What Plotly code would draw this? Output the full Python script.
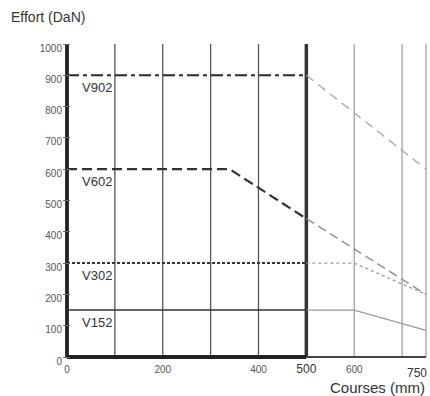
import plotly.graph_objects as go

# Stroke (mm) / force (daN) curves per model
courses_v902 = [0, 500, 750]
effort_v902 = [900, 900, 600]

courses_v602 = [0, 340, 500, 750]
effort_v602 = [600, 600, 442, 200]

courses_v302 = [0, 500, 600, 750]
effort_v302 = [300, 300, 300, 200]

courses_v152 = [0, 500, 600, 750]
effort_v152 = [150, 150, 150, 85]

models = ["V902", "V602", "V302", "V152"]
course_limit = 500  # curves are drawn bold up to this stroke, light beyond
course_max = 750    # last stroke; its label sits flush with the right edge

y_ticks = [0, 100, 200, 300, 400, 500, 600, 700, 800, 900, 1000]
x_ticks = [0, 200, 400, 500, 600]
x_ticktext = ["0", "200", "400", "500", "600"]
x_big_ticks = ["500", "750"]

grid_dark = [100, 200, 300, 400]
grid_light = [600, 700, 750]

FONT = "Liberation Sans, Arial, Helvetica, sans-serif"

styles = {
    "V902": dict(dark=dict(color="#2b2b2b", width=2, dash="12px,4px,4px,4px"),
                 light=dict(color="#a8a8a8", width=1.3, dash="9px,6px")),
    "V602": dict(dark=dict(color="#333333", width=2.2, dash="10px,5px"),
                 light=dict(color="#8f8f8f", width=1.4, dash="9px,5px")),
    "V302": dict(dark=dict(color="#333333", width=2, dash="3px,2px"),
                 light=dict(color="#9a9a9a", width=1.3, dash="3px,3px")),
    "V152": dict(dark=dict(color="#333333", width=1.6, dash="solid"),
                 light=dict(color="#9a9a9a", width=1.2, dash="solid")),
}

series = {
    "V902": (courses_v902, effort_v902),
    "V602": (courses_v602, effort_v602),
    "V302": (courses_v302, effort_v302),
    "V152": (courses_v152, effort_v152),
}

fig = go.Figure()

for name in models:
    xs, ys = series[name]
    dark = [(x, y) for x, y in zip(xs, ys) if x <= course_limit]
    light = [(x, y) for x, y in zip(xs, ys) if x >= course_limit]
    for part, pts in (("light", light), ("dark", dark)):
        fig.add_trace(go.Scatter(
            x=[p[0] for p in pts], y=[p[1] for p in pts],
            mode="lines", line=styles[name][part],
            showlegend=False, hoverinfo="skip", cliponaxis=False,
        ))
    fig.add_annotation(
        x=28, y=ys[0], text=name, showarrow=False,
        xanchor="left", yanchor="top", yshift=-3,
        font=dict(family=FONT, size=13, color="#333333"),
    )

shapes = []
for gx in grid_dark:
    shapes.append(dict(type="line", xref="x", yref="y", x0=gx, x1=gx, y0=0, y1=1000,
                       line=dict(color="#555555", width=1.3), layer="below"))
for gx in grid_light:
    shapes.append(dict(type="line", xref="x", yref="y", x0=gx, x1=gx, y0=0, y1=1000,
                       line=dict(color="#9a9a9a", width=1.2), layer="below"))
# bold frame: left axis, 500 mm limit, bottom axis
shapes.append(dict(type="line", xref="x", yref="y", x0=course_limit, x1=course_limit, y0=0, y1=1000,
                   line=dict(color="#333333", width=3.5), layer="below"))
shapes.append(dict(type="line", xref="x", yref="y", x0=course_limit, x1=course_max, y0=0, y1=0,
                   line=dict(color="#444444", width=1.8), layer="below"))
shapes.append(dict(type="line", xref="x", yref="y", x0=0, x1=course_limit, y0=0, y1=0,
                   line=dict(color="#222222", width=3.8), layer="below"))
shapes.append(dict(type="line", xref="x", yref="y", x0=0, x1=0, y0=0, y1=1000,
                   line=dict(color="#222222", width=3.8), layer="below"))

x_labels = [
    f'<span style="font-size:12px;color:#333">{t}</span>' if t in x_big_ticks else t
    for t in x_ticktext
]

fig.update_layout(
    width=430, height=396,
    margin=dict(l=63, r=0, t=41, b=36, autoexpand=False),
    paper_bgcolor="white", plot_bgcolor="white",
    shapes=shapes,
    xaxis=dict(
        range=[-8.36, 758.3], showgrid=False, zeroline=False, showline=False,
        automargin=False,
        tickmode="array", tickvals=x_ticks, ticktext=x_labels,
        ticks="", ticklabelstandoff=2,
        tickfont=dict(family=FONT, size=10, color="#555555"),
    ),
    yaxis=dict(
        range=[-9.6, 1009.6], showgrid=False, zeroline=False, showline=False,
        automargin=False,
        tickmode="array", tickvals=y_ticks,
        ticks="inside", ticklen=7, tickcolor="#666666", tickwidth=1,
        ticklabelshift=4, ticklabelstandoff=0, ticklabeloverflow="allow",
        tickfont=dict(family=FONT, size=10, color="#555555"),
    ),
    annotations=list(fig.layout.annotations) + [
        dict(xref="x", yref="paper", x=course_max, y=-0.04, xanchor="right", yanchor="middle",
             xshift=3, text=str(course_max), showarrow=False,
             font=dict(family=FONT, size=12, color="#333333")),
        dict(xref="paper", yref="paper", x=-0.147, y=1.075, xanchor="left", yanchor="middle",
             text="Effort (DaN)", showarrow=False,
             font=dict(family=FONT, size=14, color="#333333")),
        dict(xref="paper", yref="paper", x=0.858, y=-0.086, xanchor="center", yanchor="middle",
             text="Courses (mm)", showarrow=False,
             font=dict(family=FONT, size=15, color="#333333")),
    ],
)

fig.write_html("out.html")
